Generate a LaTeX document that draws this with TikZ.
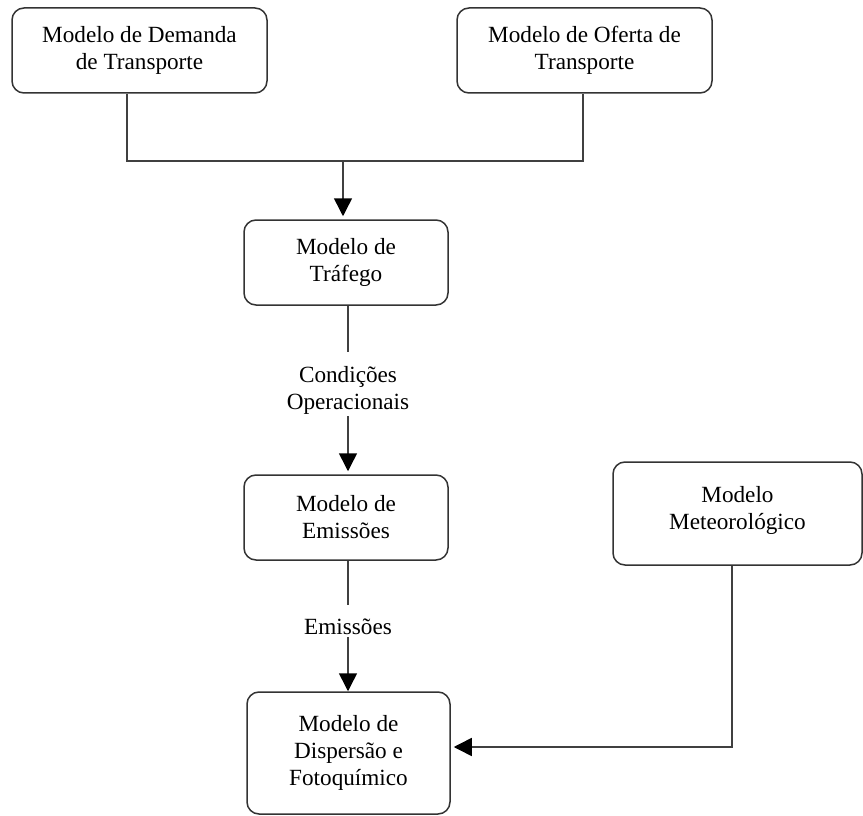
\documentclass[tikz,border=0pt]{standalone}
\usepackage{fontspec}
\setmainfont{Liberation Serif}
\usetikzlibrary{arrows.meta}
\begin{document}
\begin{tikzpicture}[x=1pt,y=-1pt,
	model/.style={draw=black!80,line width=1.5pt,rounded corners=12pt,align=center,inner sep=0pt,font=\fontsize{23.2}{27}\selectfont},
	tag/.style={align=center,inner sep=2pt,font=\fontsize{23.2}{27}\selectfont},
	link/.style={draw=black!75,line width=1.5pt},
	flow/.style={link,-{Triangle[length=18pt,width=18pt,black]},shorten >=3pt}]
	\useasboundingbox (0,0) rectangle (863,816);

	\node[model,minimum width=255pt,minimum height=85pt] at (139.5,50.5) (dem) {Modelo de Demanda\\de Transporte};
	\node[model,minimum width=255pt,minimum height=85pt] at (584.5,50.5) (ofe) {Modelo de Oferta de\\Transporte};
	\node[model,minimum width=204pt,minimum height=85pt] at (346,262.5) (tra) {Modelo de\\Tráfego};
	\node[model,minimum width=204pt,minimum height=85pt] at (346,517.5) (emi) {Modelo de\\Emissões};
	\node[model,minimum width=203pt,minimum height=122pt] at (348.5,753) (dis) {Modelo de\\Dispersão e\\Fotoquímico};
	\node[model,minimum width=249pt,minimum height=103pt] at (737.5,513.5) (met) {Modelo\\Meteorológico\\[-16pt]};

	\node[tag] at (348,390) (cond) {Condições\\Operacionais};
	\node[tag] at (348,627) (ems) {Emissões};

	\coordinate (jd) at (127,161);
	\coordinate (jo) at (583,161);
	\coordinate (jm) at (343,161);
	\coordinate (mk) at (732,747);

	% demanda + oferta -> trafego
	\draw[link] (dem.south -| jd) -- (jd) -- (jo) -- (ofe.south -| jo);
	\draw[flow] (jm) -- (jm |- tra.north);

	\draw[link,shorten >=12pt] (cond.north |- tra.south) -- (cond.north);
	\draw[flow] (cond.south) -- (cond.south |- emi.north);

	\draw[link,shorten >=12pt] (ems.north |- emi.south) -- (ems.north);
	\draw[flow,shorten >=0pt] (ems.south) -- (ems.south |- dis.north);

	\draw[flow] (met.south -| mk) -- (mk) -- (mk -| dis.east);
\end{tikzpicture}
\end{document}
